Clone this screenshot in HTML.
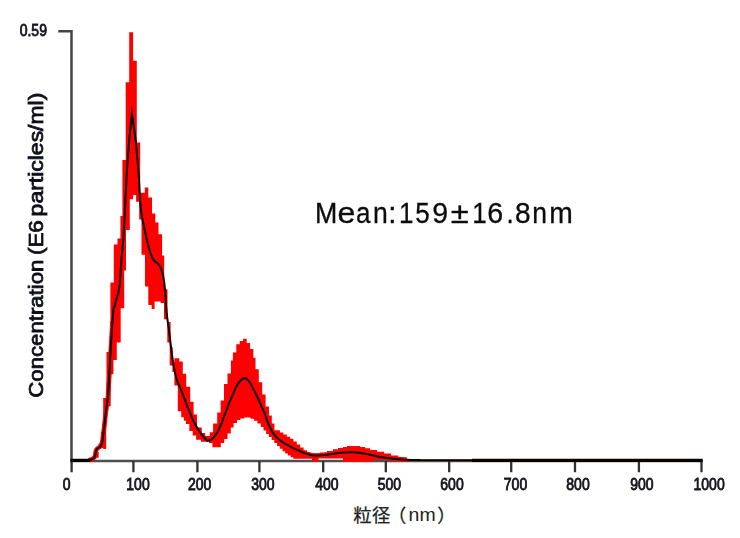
<!DOCTYPE html>
<html><head><meta charset="utf-8"><title>NTA size distribution</title>
<style>
html,body{margin:0;padding:0;background:#fff;}
body{width:740px;height:538px;overflow:hidden;font-family:"Liberation Sans",sans-serif;}
svg{display:block;}
text{font-family:"Liberation Sans",sans-serif;}
</style></head><body>
<svg width="740" height="538" viewBox="0 0 740 538">
<defs><filter id="b" x="-5%" y="-5%" width="110%" height="110%"><feGaussianBlur stdDeviation="0.55"/></filter><filter id="b3" x="-20%" y="-5%" width="140%" height="110%"><feGaussianBlur stdDeviation="0.5"/></filter><filter id="b2" x="-5%" y="-5%" width="110%" height="110%"><feGaussianBlur stdDeviation="0.6"/></filter></defs>
<rect width="740" height="538" fill="#fff"/>
<g filter="url(#b)">
<!-- axes -->
<path d="M58.3 31.2H71.5V461" fill="none" stroke="#444" stroke-width="2.5"/>
<path d="M70.3 461H702.6" fill="none" stroke="#505050" stroke-width="2.6"/>
<path d="M71.6 461V472.3M133.4 461V472.3M197.4 461V472.3M259.4 461V472.3M323.2 461V472.3M385.8 461V472.3M449.2 461V472.3M511.2 461V472.3M575.0 461V472.3M638.9 461V472.3M701.5 461V472.3" fill="none" stroke="#303030" stroke-width="2.3"/>
<!-- error band -->
<path d="M89.0 460.4C90.4 459.5 92.4 460.1 94.4 457.2C96.4 454.3 94.7 453.0 96.5 449.7C98.3 446.4 99.4 449.0 101.2 445.0C103.0 441.0 102.1 442.3 103.2 434.8C104.3 427.3 104.2 426.0 105.3 417.0C106.4 408.0 106.5 407.8 107.3 401.0C108.1 394.2 106.9 412.7 108.3 391.5C109.7 370.3 111.4 340.2 112.5 321.5" fill="none" stroke="#ff0000" stroke-width="4.6" stroke-linejoin="round"/><path d="M286.6 444.5C289.9 446.1 292.7 447.9 298.8 450.6C304.9 453.3 304.2 453.4 309.6 454.7C315.0 456.0 313.7 455.6 319.1 455.5C324.5 455.4 321.8 455.2 330.0 454.3C338.2 453.4 340.6 452.3 349.9 452.2C359.2 452.1 355.6 452.3 365.0 453.8C374.4 455.3 373.9 456.1 385.0 457.7C396.1 459.3 401.0 459.2 406.8 459.7" fill="none" stroke="#ff0000" stroke-width="4.6" stroke-linejoin="round"/>
<path d="M96.0 452.0H98.7V457.8H96.0ZM98.5 444.0H101.2V448.0H98.5ZM101.0 432.0H103.4V448.0H101.0ZM103.2 398.0H106.2V449.0H103.2ZM106.0 398.0H106.7V406.3H106.0ZM106.5 352.0H110.6V406.3H106.5ZM110.4 282.6H110.7V406.3H110.4ZM110.5 282.6H113.4V374.3H110.5ZM113.2 282.6H114.0V360.0H113.2ZM113.8 244.6H116.8V360.0H113.8ZM116.6 244.6H117.7V342.4H116.6ZM117.5 238.5H120.6V342.4H117.5ZM120.4 215.9H120.7V342.4H120.4ZM120.5 215.9H122.6V308.3H120.5ZM122.4 160.1H124.2V308.3H122.4ZM124.0 160.1H125.9V270.4H124.0ZM125.7 82.3H126.0V270.4H125.7ZM125.8 82.3H129.3V229.9H125.8ZM129.2 32.2H129.8V229.9H129.2ZM129.6 32.2H133.1V199.2H129.6ZM132.9 60.8H136.2V195.1H132.9ZM136.1 60.8H136.8V201.7H136.1ZM136.7 142.5H139.3V201.7H136.7ZM139.2 142.5H140.2V219.5H139.2ZM140.0 192.8H141.7V219.5H140.0ZM141.5 192.8H145.0V254.7H141.5ZM144.8 187.4H145.2V254.7H144.8ZM145.0 187.4H148.3V286.6H145.0ZM148.2 197.6H148.5V286.6H148.2ZM148.3 197.6H151.8V305.0H148.3ZM151.7 197.6H152.0V309.0H151.7ZM151.8 213.6H154.6V309.0H151.8ZM154.4 213.6H155.3V301.6H154.4ZM155.2 222.6H158.5V301.6H155.2ZM158.3 234.2H160.8V301.6H158.3ZM160.6 234.2H162.1V303.0H160.6ZM161.9 255.4H164.2V303.0H161.9ZM164.0 289.3H167.5V319.2H164.0ZM167.3 322.0H169.8V342.6H167.3ZM169.7 322.0H170.6V365.6H169.7ZM170.4 347.0H172.6V365.6H170.4ZM172.4 362.0H174.6V372.0H172.4ZM174.4 358.2H178.0V385.4H174.4ZM177.8 358.2H179.3V411.2H177.8ZM179.2 361.6H181.3V411.2H179.2ZM181.2 361.6H182.8V417.3H181.2ZM182.6 373.8H184.1V417.3H182.6ZM183.9 373.8H186.2V420.7H183.9ZM186.0 386.8H189.5V424.0H186.0ZM189.3 386.8H190.2V430.9H189.3ZM190.0 401.7H192.8V430.9H190.0ZM192.7 401.7H193.6V435.6H192.7ZM193.4 414.6H196.2V435.6H193.4ZM196.1 414.6H197.0V439.7H196.1ZM196.8 427.5H201.1V439.7H196.8ZM200.9 427.5H201.8V441.7H200.9ZM201.6 433.0H205.2V441.7H201.6ZM205.0 436.0H209.2V441.7H205.0ZM209.0 436.0H209.8V443.0H209.0ZM209.7 432.2H212.6V443.0H209.7ZM212.4 432.2H213.2V447.2H212.4ZM213.1 423.4H217.3V447.2H213.1ZM217.2 412.6H220.8V447.2H217.2ZM220.6 400.4H224.2V443.1H220.6ZM224.0 384.0H227.5V439.0H224.0ZM227.3 384.0H227.7V433.6H227.3ZM227.5 373.4H230.8V433.6H227.5ZM230.7 373.4H231.1V427.5H230.7ZM230.9 360.5H233.1V427.5H230.9ZM232.9 352.4H233.6V427.5H232.9ZM233.4 352.4H236.5V423.0H233.4ZM236.3 344.2H237.0V423.0H236.3ZM236.8 344.2H239.8V420.0H236.8ZM239.7 340.9H240.3V420.0H239.7ZM240.2 340.9H243.2V418.5H240.2ZM243.1 338.8H244.2V418.5H243.1ZM244.0 338.8H246.7V417.4H244.0ZM246.5 342.9H250.1V417.4H246.5ZM249.9 349.0H250.7V417.4H249.9ZM250.5 349.0H253.3V418.8H250.5ZM253.2 357.8H254.2V418.8H253.2ZM254.0 357.8H255.5V420.8H254.0ZM255.3 369.3H257.5V420.8H255.3ZM257.4 369.3H258.8V423.5H257.4ZM258.7 382.2H260.9V423.5H258.7ZM260.8 382.2H262.2V427.0H260.8ZM262.1 394.5H263.6V427.0H262.1ZM263.5 394.5H265.6V430.5H263.5ZM265.5 406.5H266.3V430.5H265.5ZM266.2 406.5H269.0V434.0H266.2ZM268.9 415.4H271.8V437.0H268.9ZM271.6 423.5H274.4V440.0H271.6ZM274.3 430.3H277.2V443.0H274.3ZM277.1 430.3H279.9V446.0H277.1ZM279.8 432.5H282.6V448.7H279.8ZM282.5 432.5H283.3V451.3H282.5ZM283.2 434.5H285.3V451.3H283.2ZM285.2 434.5H286.8V453.5H285.2ZM286.6 436.7H288.0V453.5H286.6ZM287.9 436.7H290.1V455.5H287.9ZM290.0 438.8H290.8V455.5H290.0ZM290.6 438.8H293.4V457.2H290.6ZM293.3 441.5H296.8V458.8H293.3ZM296.7 444.5H300.2V458.8H296.7ZM300.1 447.5H303.6V458.8H300.1ZM303.5 450.3H307.0V458.8H303.5ZM306.9 452.3H310.4V458.8H306.9ZM310.3 453.4H312.1V458.8H310.3ZM312.0 453.4H318.5V461.5H312.0ZM318.4 453.4H320.1V458.5H318.4ZM320.0 452.6H327.1V458.5H320.0ZM327.0 451.0H333.1V458.5H327.0ZM333.0 449.3H338.1V458.5H333.0ZM338.0 448.0H343.1V458.5H338.0ZM343.0 447.0H347.1V461.8H343.0ZM347.0 446.1H360.1V461.8H347.0ZM360.0 447.0H365.1V461.8H360.0ZM365.0 448.3H370.1V461.8H365.0ZM370.0 450.0H373.1V461.8H370.0ZM373.0 450.0H377.1V460.0H373.0ZM377.0 451.7H384.1V460.0H377.0ZM384.0 453.5H390.1V460.0H384.0ZM390.0 453.5H391.1V461.0H390.0ZM391.0 455.5H398.1V461.0H391.0ZM398.0 457.8H407.1V461.0H398.0ZM407.0 459.0H412.1V461.0H407.0Z" fill="#ff0000"/>
<path d="M70.6 460.3H90M472 460.3H702.6" stroke="#000" stroke-width="3.3" fill="none"/>
<path d="M71.6 460.6L89.0 460.4C90.4 459.5 92.4 460.1 94.4 457.2C96.4 454.3 94.7 453.0 96.5 449.7C98.3 446.4 99.4 449.0 101.2 445.0C103.0 441.0 102.1 442.3 103.2 434.8C104.3 427.3 104.2 426.0 105.3 417.0C106.4 408.0 106.5 407.8 107.3 401.0C108.1 394.2 106.9 412.7 108.3 391.5C109.7 370.3 110.7 344.8 112.5 321.5C114.3 298.2 113.3 313.2 115.1 304.3C116.9 295.4 117.5 299.5 119.2 288.0C120.9 276.5 120.5 271.1 121.3 261.0C122.1 250.9 121.7 257.3 122.3 250.0C122.9 242.7 123.0 245.4 123.7 233.7C124.4 222.0 124.0 227.0 125.1 206.0C126.2 185.0 126.2 179.5 128.0 155.0C129.8 130.5 130.9 124.9 131.9 114.0L131.9 114.0C132.9 120.9 134.2 129.1 135.6 140.0C137.0 150.9 136.1 144.7 137.0 155.0C137.9 165.3 137.9 164.6 138.9 178.7C139.9 192.8 139.3 194.6 140.8 208.0C142.3 221.4 142.6 218.9 144.6 229.0C146.6 239.1 146.4 238.4 148.4 246.0C150.4 253.6 150.5 253.4 152.2 257.4C153.9 261.4 152.4 258.3 154.6 261.0C156.8 263.7 158.0 261.5 160.6 267.6C163.2 273.7 162.9 272.7 164.4 284.0C165.9 295.3 165.2 297.6 166.4 310.0C167.6 322.4 167.6 319.5 169.0 330.4C170.4 341.3 170.1 340.2 171.5 350.7C172.9 361.2 172.8 361.5 174.4 369.7C176.0 377.9 175.3 375.1 177.5 381.5C179.7 387.9 179.5 385.7 182.6 393.6C185.7 401.5 185.7 402.5 189.3 411.2C192.9 419.9 192.1 419.0 196.1 426.1C200.1 433.2 200.9 433.9 204.3 437.7C207.7 441.5 206.1 441.0 209.0 440.4C211.9 439.8 212.0 439.6 215.1 435.6C218.2 431.6 218.1 430.7 220.5 425.5C222.9 420.3 222.0 421.6 224.2 416.0C226.4 410.4 226.4 410.0 228.6 404.5C230.8 399.0 230.4 400.2 232.4 395.5C234.4 390.8 234.2 390.8 236.2 387.0C238.2 383.2 237.8 383.6 240.0 381.3C242.2 379.0 242.2 378.2 244.6 378.2C247.0 378.2 246.7 378.4 249.0 381.3C251.3 384.2 251.1 384.8 253.3 388.9C255.5 393.0 255.1 392.2 257.1 396.5C259.1 400.8 258.9 400.5 260.9 405.0C262.9 409.5 262.6 408.2 264.7 413.5C266.8 418.8 266.0 418.9 268.9 425.0C271.8 431.1 271.0 431.2 275.7 436.4C280.4 441.6 280.4 440.7 286.6 444.5C292.8 448.3 292.7 447.9 298.8 450.6C304.9 453.3 304.2 453.4 309.6 454.7C315.0 456.0 313.7 455.6 319.1 455.5C324.5 455.4 321.8 455.2 330.0 454.3C338.2 453.4 340.6 452.3 349.9 452.2C359.2 452.1 355.6 452.3 365.0 453.8C374.4 455.3 373.9 456.1 385.0 457.7C396.1 459.3 397.5 459.1 406.8 459.7C416.1 460.3 416.5 459.9 420.0 460.0L472.0 460.3L701.6 460.3" fill="none" stroke="#0a0000" stroke-width="2" stroke-linejoin="miter" stroke-miterlimit="10"/>
<!-- tick labels -->
<g font-size="14" fill="#14141c" stroke="#14141c" stroke-width="0.7" filter="url(#b2)"><text transform="translate(66.7 489.9) scale(1 1.2)" text-anchor="middle">0</text><text transform="translate(138.0 489.9) scale(1 1.2)" text-anchor="middle">100</text><text transform="translate(199.6 489.9) scale(1 1.2)" text-anchor="middle">200</text><text transform="translate(262.8 489.9) scale(1 1.2)" text-anchor="middle">300</text><text transform="translate(326.8 489.9) scale(1 1.2)" text-anchor="middle">400</text><text transform="translate(389.4 489.9) scale(1 1.2)" text-anchor="middle">500</text><text transform="translate(452.0 489.9) scale(1 1.2)" text-anchor="middle">600</text><text transform="translate(515.5 489.9) scale(1 1.2)" text-anchor="middle">700</text><text transform="translate(578.0 489.9) scale(1 1.2)" text-anchor="middle">800</text><text transform="translate(641.9 489.9) scale(1 1.2)" text-anchor="middle">900</text><text transform="translate(709.1 489.9) scale(1 1.2)" text-anchor="middle">1000</text>
<text transform="translate(33.3 36) scale(1 1.13)" text-anchor="middle">0.59</text></g>
<!-- y title -->
<g font-size="19.5" fill="#10101a" stroke="#10101a" stroke-width="0.75" filter="url(#b3)"><text transform="translate(43.3 396.60) rotate(-90) scale(1.1380 1)" x="-0.99" y="0">Concentration</text><text transform="translate(43.3 253.70) rotate(-90) scale(1.1493 1)" x="-1.21" y="0">(E6</text><text transform="translate(43.3 214.90) rotate(-90) scale(1.1780 1)" x="-1.26" y="0">particles/ml)</text></g>
</g>
<!-- annotation -->
<g font-size="28.9" fill="#0c0c0c" stroke="#0c0c0c" stroke-width="0.3"><text transform="translate(314.90 223.1) scale(0.926 1)">M</text><text transform="translate(337.53 223.1) scale(1.113 1)">e</text><text transform="translate(356.11 223.1) scale(0.900 1)">a</text><text transform="translate(373.03 223.1) scale(0.920 1)">n</text><text transform="translate(388.21 223.1) scale(1.018 1)">:</text><text transform="translate(399.11 223.1) scale(0.900 1)">1</text><text transform="translate(415.34 223.1) scale(0.900 1)">5</text><text transform="translate(432.16 223.1) scale(0.989 1)">9</text><text transform="translate(450.85 223.1) scale(1.140 1)">±</text><text transform="translate(472.31 223.1) scale(0.900 1)">1</text><text transform="translate(487.25 223.1) scale(0.990 1)">6</text><text transform="translate(506.59 223.1) scale(0.900 1)">.</text><text transform="translate(514.98 223.1) scale(0.973 1)">8</text><text transform="translate(532.33 223.1) scale(0.920 1)">n</text><text transform="translate(549.32 223.1) scale(0.978 1)">m</text></g>
<!-- x title -->
<g fill="#222"><text x="353.2" y="521.5" font-size="18.3" stroke="#222" stroke-width="0.25" style="font-family:'Liberation Sans','Noto Sans CJK JP',sans-serif">粒</text><text x="372.0" y="521.5" font-size="18.3" stroke="#222" stroke-width="0.25" style="font-family:'Liberation Sans','Noto Sans CJK JP',sans-serif">径</text><text x="388.1" y="522.3" font-size="18.3" stroke="#222" stroke-width="0.25" style="font-family:'Liberation Sans','Noto Sans CJK JP',sans-serif">（</text><text x="437.3" y="522.3" font-size="18.3" stroke="#222" stroke-width="0.25" style="font-family:'Liberation Sans','Noto Sans CJK JP',sans-serif">）</text>
<text x="408.6" y="520.8" font-size="18.6" textLength="27" lengthAdjust="spacingAndGlyphs">nm</text></g>
</svg>
</body></html>
